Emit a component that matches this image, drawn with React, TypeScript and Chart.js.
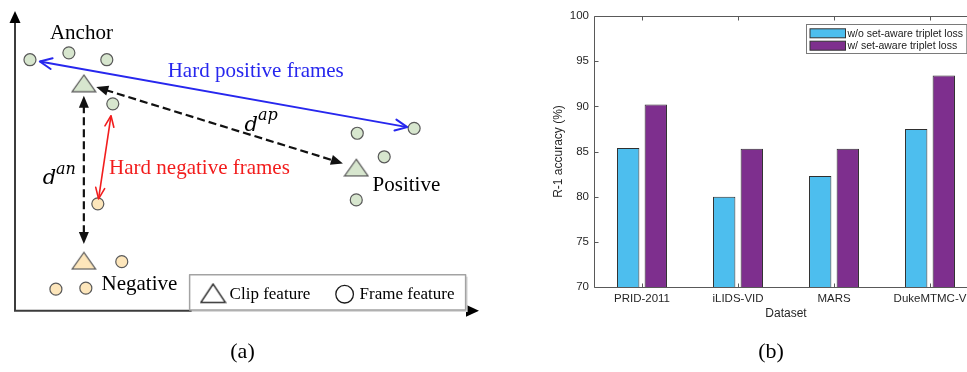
import React, { useEffect, useRef } from "react";
import { Chart, registerables } from "chart.js";

Chart.register(...registerables);

/* ---------- (a) triplet sketch in a 2-D feature space ---------- */
// Frame-level features of the anchor clip
const anchorFramesX = [1.5, 5.4, 9.2, 9.8];
const anchorFramesY = [25.6, 26.3, 25.6, 21.1];
// Frame-level features of the positive clip
const positiveFramesX = [40.0, 34.3, 37.0, 34.2];
const positiveFramesY = [18.6, 18.1, 15.7, 11.3];
// Frame-level features of the negative clip
const negativeFramesX = [8.3, 10.7, 4.1, 7.1];
const negativeFramesY = [10.9, 5.0, 2.2, 2.3];
// Clip-level features: anchor, positive, negative
const clipNames = ["Anchor", "Positive", "Negative"];
const clipX = [6.9, 34.2, 6.9];
const clipY = [23.2, 14.6, 5.1];
// Extent of the feature axes
const featureXRange = [0, 46.5];
const featureYRange = [0, 30.57];

/* ---------- (b) R-1 accuracy per dataset ---------- */
const datasetNames = ["PRID-2011", "iLIDS-VID", "MARS", "DukeMTMC-V"];
const seriesNames = ["w/o set-aware triplet loss", "w/ set-aware triplet loss"];
const withoutSetAware = [85.4, 80.0, 82.3, 87.5];
const withSetAware = [90.2, 85.3, 85.3, 93.4];
const accuracyTicks = [70, 75, 80, 85, 90, 95, 100];

/* ---------- styling ---------- */
const SANS = '"Liberation Sans", Arial, sans-serif';
const SERIF = '"Liberation Serif", "Times New Roman", serif';
const MATH = '"DejaVu Serif", serif';
const AXIS_TEXT = "#262626";
const GREEN = "#d7e6ce";
const YELLOW = "#fde6bb";
const OUTLINE = "#595959";
const BLUE = "#2727ee";
const RED = "#f21d1d";

// where each clip name is written (feature space, left/baseline)
const clipLabelX = [3.5, 35.83, 8.67];
const clipLabelY = [27.74, 12.24, 2.07];

type Ref = [string, number];
type ArrowSpec = {
  from: Ref;
  to: Ref;
  color: string;
  width: number;
  dash: number[];
  head: "open" | "filled";
  headLen: number;
  headWidth: number;
  trim: [number, number];
};

const arrowSpecs: ArrowSpec[] = [
  { from: ["anchor", 0], to: ["positive", 0], color: BLUE, width: 2, dash: [], head: "open", headLen: 12, headWidth: 11, trim: [10, 7] },
  { from: ["clip", 0], to: ["clip", 1], color: "#111", width: 2.2, dash: [8, 4], head: "filled", headLen: 12, headWidth: 10, trim: [13, 14] },
  { from: ["clip", 0], to: ["clip", 2], color: "#111", width: 2.2, dash: [8, 4], head: "filled", headLen: 12, headWidth: 10, trim: [12.4, 16.7] },
  { from: ["anchor", 3], to: ["negative", 0], color: RED, width: 1.6, dash: [], head: "open", headLen: 11, headWidth: 9, trim: [12, 5] },
];

// free text of the sketch: [text, color, x, y]
const arrowCaptions: [string, string, number, number][] = [
  ["Hard positive frames", BLUE, 15.3, 23.84],
  ["Hard negative frames", RED, 9.43, 13.9],
];
// distance symbols: [base, superscript, x, y]
const distanceSymbols: [string, string, number, number][] = [
  ["d", "ap", 23.0, 18.37],
  ["d", "an", 2.77, 12.9],
];
const legendItems = ["Clip feature", "Frame feature"];

function pointOf(ref: Ref): [number, number] {
  const [g, i] = ref;
  if (g === "anchor") return [anchorFramesX[i], anchorFramesY[i]];
  if (g === "positive") return [positiveFramesX[i], positiveFramesY[i]];
  if (g === "negative") return [negativeFramesX[i], negativeFramesY[i]];
  return [clipX[i], clipY[i]];
}

function zip(xs: number[], ys: number[]) {
  return xs.map((x, i) => ({ x, y: ys[i] }));
}

function triangleSprite(fill: string | null, stroke: string, w: number, h: number, lw: number) {
  const c = document.createElement("canvas");
  c.width = Math.ceil(w + lw * 2);
  c.height = Math.ceil(h + lw * 2);
  const g = c.getContext("2d")!;
  g.beginPath();
  g.moveTo(c.width / 2, lw);
  g.lineTo(c.width - lw, c.height - lw);
  g.lineTo(lw, c.height - lw);
  g.closePath();
  if (fill) {
    g.fillStyle = fill;
    g.fill();
  }
  g.strokeStyle = stroke;
  g.lineWidth = lw;
  g.lineJoin = "miter";
  g.stroke();
  return c;
}

function drawHead(ctx: CanvasRenderingContext2D, tx: number, ty: number, ux: number, uy: number, spec: ArrowSpec) {
  const bx = tx - ux * spec.headLen;
  const by = ty - uy * spec.headLen;
  const nx = -uy * (spec.headWidth / 2);
  const ny = ux * (spec.headWidth / 2);
  ctx.setLineDash([]);
  ctx.beginPath();
  if (spec.head === "filled") {
    ctx.moveTo(tx, ty);
    ctx.lineTo(bx + nx, by + ny);
    ctx.lineTo(bx - nx, by - ny);
    ctx.closePath();
    ctx.fillStyle = spec.color;
    ctx.fill();
  } else {
    ctx.moveTo(bx + nx, by + ny);
    ctx.lineTo(tx, ty);
    ctx.lineTo(bx - nx, by - ny);
    ctx.strokeStyle = spec.color;
    ctx.lineWidth = spec.width;
    ctx.stroke();
  }
}

function filledArrowHead(ctx: CanvasRenderingContext2D, tx: number, ty: number, ux: number, uy: number, len: number, wid: number) {
  const bx = tx - ux * len;
  const by = ty - uy * len;
  const nx = -uy * (wid / 2);
  const ny = ux * (wid / 2);
  ctx.beginPath();
  ctx.moveTo(tx, ty);
  ctx.lineTo(bx + nx, by + ny);
  ctx.lineTo(bx - nx, by - ny);
  ctx.closePath();
  ctx.fill();
}

const sketchPlugin = {
  id: "tripletSketch",
  beforeDatasetsDraw(chart: any) {
    const { ctx } = chart;
    const xs = chart.scales.x;
    const ys = chart.scales.y;
    const ox = xs.getPixelForValue(featureXRange[0]);
    const oy = ys.getPixelForValue(featureYRange[0]);
    const top = ys.getPixelForValue(featureYRange[1]);
    const right = xs.getPixelForValue(featureXRange[1]);
    ctx.save();
    ctx.strokeStyle = "#3c3c3c";
    ctx.fillStyle = "#000";
    ctx.lineWidth = 2;
    ctx.beginPath();
    ctx.moveTo(ox, top + 10);
    ctx.lineTo(ox, oy);
    ctx.lineTo(right - 10, oy);
    ctx.stroke();
    filledArrowHead(ctx, ox, top, 0, -1, 12, 11);
    filledArrowHead(ctx, right, oy, 1, 0, 13, 12);
    ctx.restore();
  },
  afterDatasetsDraw(chart: any) {
    const { ctx } = chart;
    const xs = chart.scales.x;
    const ys = chart.scales.y;
    const px = (v: number) => xs.getPixelForValue(v);
    const py = (v: number) => ys.getPixelForValue(v);
    ctx.save();

    // distance / hard-sample arrows
    for (const spec of arrowSpecs) {
      const [ax, ay] = pointOf(spec.from);
      const [bx, by] = pointOf(spec.to);
      const x1 = px(ax), y1 = py(ay), x2 = px(bx), y2 = py(by);
      const len = Math.hypot(x2 - x1, y2 - y1);
      const ux = (x2 - x1) / len, uy = (y2 - y1) / len;
      const sx = x1 + ux * spec.trim[0], sy = y1 + uy * spec.trim[0];
      const ex = x2 - ux * spec.trim[1], ey = y2 - uy * spec.trim[1];
      const inset = spec.head === "filled" ? spec.headLen * 0.8 : 0;
      ctx.beginPath();
      ctx.setLineDash(spec.dash);
      ctx.strokeStyle = spec.color;
      ctx.lineWidth = spec.width;
      ctx.lineCap = "butt";
      ctx.moveTo(sx + ux * inset, sy + uy * inset);
      ctx.lineTo(ex - ux * inset, ey - uy * inset);
      ctx.stroke();
      ctx.lineCap = "round";
      ctx.lineJoin = "round";
      drawHead(ctx, sx, sy, -ux, -uy, spec);
      drawHead(ctx, ex, ey, ux, uy, spec);
    }
    ctx.setLineDash([]);

    // names of the clips
    ctx.textBaseline = "alphabetic";
    ctx.textAlign = "left";
    ctx.font = `21px ${SERIF}`;
    ctx.fillStyle = "#000";
    clipNames.forEach((name, i) => ctx.fillText(name, px(clipLabelX[i]), py(clipLabelY[i])));

    for (const [text, color, x, y] of arrowCaptions) {
      ctx.fillStyle = color;
      ctx.fillText(text, px(x), py(y));
    }

    // distance symbols
    ctx.fillStyle = "#000";
    for (const [base, sup, x, y] of distanceSymbols) {
      ctx.font = `italic 21px ${MATH}`;
      ctx.fillText(base, px(x), py(y));
      const w = ctx.measureText(base).width;
      ctx.font = `italic 16px ${MATH}`;
      ctx.fillText(sup, px(x) + w, py(y) - 10.5);
    }

    // key box
    const L = px(17.5), T = py(3.67), W = 276, H = 35.3;
    ctx.fillStyle = "#d9d9d9";
    ctx.fillRect(L + 2, T + 2, W, H);
    ctx.fillStyle = "#fff";
    ctx.fillRect(L, T, W, H);
    ctx.strokeStyle = "#a3a3a3";
    ctx.lineWidth = 1.5;
    ctx.strokeRect(L, T, W, H);
    const tri = triangleSprite(null, "#1a1a1a", 24, 18, 1.3);
    ctx.drawImage(tri, L + 23.5 - tri.width / 2, T + 18.5 - tri.height / 2);
    ctx.beginPath();
    ctx.arc(L + 155, T + 19.5, 8.8, 0, Math.PI * 2);
    ctx.strokeStyle = "#1a1a1a";
    ctx.lineWidth = 1.3;
    ctx.stroke();
    ctx.fillStyle = "#000";
    ctx.font = `17px ${SERIF}`;
    ctx.fillText(legendItems[0], L + 40, T + 24.5);
    ctx.fillText(legendItems[1], L + 170, T + 24.5);

    // panel caption
    ctx.font = `22px ${SERIF}`;
    ctx.textAlign = "center";
    ctx.fillText("(a)", 242.5, 358);
    ctx.restore();
  },
};

const matlabAxesPlugin = {
  id: "matlabAxes",
  afterDatasetsDraw(chart: any) {
    const { ctx, chartArea: ca } = chart;
    const xs = chart.scales.x;
    const ys = chart.scales.y;
    const l = Math.round(ca.left) + 0.5;
    const r = Math.round(ca.right) + 0.5;
    const t = Math.round(ca.top) + 0.5;
    const b = Math.round(ca.bottom) + 0.5;
    ctx.save();
    ctx.strokeStyle = "#595959";
    ctx.lineWidth = 1;
    ctx.beginPath();
    ctx.moveTo(l, t);
    ctx.lineTo(r, t);
    ctx.lineTo(r, b);
    ctx.lineTo(l, b);
    ctx.closePath();
    ctx.stroke();
    ctx.beginPath();
    for (const v of accuracyTicks) {
      const y = Math.round(ys.getPixelForValue(v)) + 0.5;
      ctx.moveTo(l, y);
      ctx.lineTo(l + 4, y);
      ctx.moveTo(r, y);
      ctx.lineTo(r - 4, y);
    }
    datasetNames.forEach((_, i) => {
      const x = Math.round(xs.getPixelForValue(i)) + 0.5;
      ctx.moveTo(x, b);
      ctx.lineTo(x, b - 4);
      ctx.moveTo(x, t);
      ctx.lineTo(x, t + 4);
    });
    ctx.stroke();

    // legend in the upper right corner
    const bw = 160.3, bh = 29;
    const bl = Math.round(ca.right - 12 - bw) + 0.5;
    const bt = Math.round(ca.top + 8) + 0.5;
    ctx.fillStyle = "#fff";
    ctx.fillRect(bl, bt, bw, bh);
    ctx.strokeStyle = "#7a7a7a";
    ctx.strokeRect(bl, bt, bw, bh);
    ctx.font = `10.5px ${SANS}`;
    ctx.textBaseline = "middle";
    ctx.textAlign = "left";
    chart.data.datasets.forEach((ds: any, i: number) => {
      const cy = bt + 8.8 + i * 12.4;
      ctx.fillStyle = ds.backgroundColor;
      ctx.fillRect(bl + 3.5, cy - 4.5, 35.5, 9);
      ctx.strokeStyle = "#333";
      ctx.strokeRect(bl + 3.5, cy - 4.5, 35.5, 9);
      ctx.fillStyle = "#1a1a1a";
      ctx.fillText(ds.label, bl + 41, cy + 0.5);
    });

    ctx.font = `22px ${SERIF}`;
    ctx.textAlign = "center";
    ctx.textBaseline = "alphabetic";
    ctx.fillStyle = "#000";
    ctx.fillText("(b)", 271, 358);
    ctx.restore();
  },
};

export default function App() {
  const sketchRef = useRef<HTMLCanvasElement>(null);
  const barRef = useRef<HTMLCanvasElement>(null);

  useEffect(() => {
    const greenTri = triangleSprite(GREEN, OUTLINE, 23, 16.5, 1.2);
    const yellowTri = triangleSprite(YELLOW, OUTLINE, 23, 16.5, 1.2);
    const circle = (fill: string, data: { x: number; y: number }[]) => ({
      data,
      pointStyle: "circle",
      pointRadius: 6,
      pointBorderWidth: 1.2,
      pointBackgroundColor: fill,
      pointBorderColor: OUTLINE,
      showLine: false,
      clip: false,
    });

    const sketch = new Chart(sketchRef.current!, {
      type: "scatter",
      data: {
        datasets: [
          circle(GREEN, zip(anchorFramesX, anchorFramesY)),
          circle(GREEN, zip(positiveFramesX, positiveFramesY)),
          circle(YELLOW, zip(negativeFramesX, negativeFramesY)),
          {
            data: zip(clipX, clipY),
            pointStyle: [greenTri, greenTri, yellowTri],
            pointRadius: 10,
            showLine: false,
            clip: false,
          },
        ],
      } as any,
      options: {
        responsive: false,
        animation: false,
        devicePixelRatio: 1,
        events: [],
        layout: { padding: { left: 15, top: 5, right: 10, bottom: 61.3 } },
        plugins: { legend: { display: false }, tooltip: { enabled: false } },
        scales: {
          x: { type: "linear", min: featureXRange[0], max: featureXRange[1], display: false },
          y: { type: "linear", min: featureYRange[0], max: featureYRange[1], display: false },
        },
      },
      plugins: [sketchPlugin],
    });

    const bars = new Chart(barRef.current!, {
      type: "bar",
      data: {
        labels: datasetNames,
        datasets: [
          {
            label: seriesNames[0],
            data: withoutSetAware,
            backgroundColor: "#4DBEEE",
            borderColor: "#2f2f2f",
            borderWidth: 1,
            categoryPercentage: 0.575,
            barPercentage: 0.81,
          },
          {
            label: seriesNames[1],
            data: withSetAware,
            backgroundColor: "#7E2F8E",
            borderColor: "#2f2f2f",
            borderWidth: 1,
            categoryPercentage: 0.575,
            barPercentage: 0.81,
          },
        ],
      },
      options: {
        responsive: false,
        animation: false,
        devicePixelRatio: 1,
        events: [],
        layout: { padding: { left: 51, top: 16, right: 12, bottom: 50.8 } },
        plugins: { legend: { display: false }, tooltip: { enabled: false } },
        scales: {
          x: {
            grid: { display: false, drawTicks: false },
            border: { display: false },
            ticks: { font: { family: SANS, size: 11.5 }, color: AXIS_TEXT, padding: 5, autoSkip: false, maxRotation: 0 },
            title: { display: true, text: "Dataset", font: { family: SANS, size: 12 }, color: AXIS_TEXT, padding: 0 },
            afterFit: (axis: any) => {
              axis.height = 34.2;
            },
          },
          y: {
            min: accuracyTicks[0],
            max: accuracyTicks[accuracyTicks.length - 1],
            afterBuildTicks: (axis: any) => {
              axis.ticks = accuracyTicks.map((value) => ({ value }));
            },
            grid: { display: false, drawTicks: false },
            border: { display: false },
            ticks: { font: { family: SANS, size: 11.5 }, color: AXIS_TEXT, padding: 5 },
            title: { display: true, text: "R-1 accuracy (%)", font: { family: SANS, size: 12 }, color: AXIS_TEXT, padding: 0 },
            afterFit: (axis: any) => {
              axis.width = 43;
            },
          },
        },
      },
      plugins: [matlabAxesPlugin],
    });

    return () => {
      sketch.destroy();
      bars.destroy();
    };
  }, []);

  return (
    <div
      style={{
        position: "absolute",
        left: 0,
        top: 0,
        width: 967,
        height: 372,
        overflow: "hidden",
        background: "#fff",
      }}
    >
      <canvas
        ref={sketchRef}
        width={490}
        height={372}
        style={{ position: "absolute", left: 0, top: 0, width: 490, height: 372 }}
      />
      <canvas
        ref={barRef}
        width={490}
        height={372}
        style={{ position: "absolute", left: 500, top: 0, width: 490, height: 372 }}
      />
    </div>
  );
}
